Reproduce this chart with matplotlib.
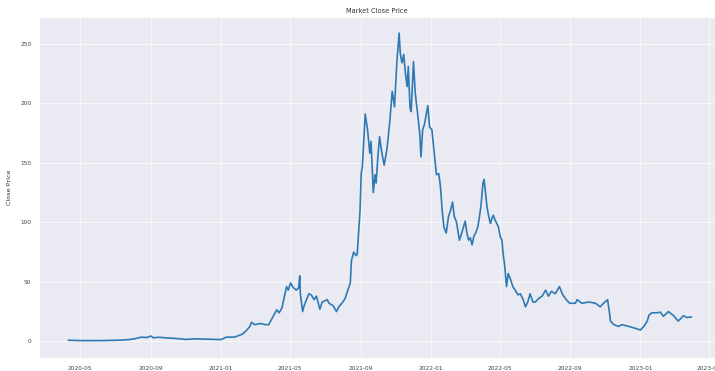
import matplotlib
matplotlib.use("Agg")
import matplotlib.pyplot as plt
import matplotlib.dates as mdates
import seaborn as sns
import pandas as pd

# Close prices
dates = [
    "2020-04-10", "2020-04-25", "2020-05-10", "2020-05-25", "2020-06-10", "2020-06-25",
    "2020-07-10", "2020-07-25", "2020-08-05", "2020-08-15", "2020-08-25", "2020-09-01",
    "2020-09-05", "2020-09-15", "2020-10-01", "2020-10-15", "2020-11-01", "2020-11-15",
    "2020-12-01", "2020-12-20", "2021-01-01", "2021-01-10", "2021-01-25", "2021-02-07",
    "2021-02-14", "2021-02-20", "2021-02-23", "2021-03-01", "2021-03-10", "2021-03-20",
    "2021-03-25", "2021-03-31", "2021-04-08", "2021-04-12", "2021-04-17", "2021-04-20",
    "2021-04-25", "2021-04-28", "2021-05-02", "2021-05-07", "2021-05-12", "2021-05-16",
    "2021-05-18", "2021-05-19", "2021-05-23", "2021-05-25", "2021-05-28", "2021-06-03",
    "2021-06-07", "2021-06-12", "2021-06-16", "2021-06-22", "2021-06-26", "2021-07-05",
    "2021-07-08", "2021-07-15", "2021-07-21", "2021-07-25", "2021-08-01", "2021-08-05",
    "2021-08-09", "2021-08-14", "2021-08-16", "2021-08-20", "2021-08-24", "2021-08-26",
    "2021-08-29", "2021-08-31", "2021-09-02", "2021-09-04", "2021-09-06", "2021-09-09",
    "2021-09-13", "2021-09-17", "2021-09-19", "2021-09-21", "2021-09-23", "2021-09-26",
    "2021-09-28", "2021-10-01", "2021-10-04", "2021-10-08", "2021-10-12", "2021-10-17",
    "2021-10-22", "2021-10-26", "2021-10-30", "2021-11-03", "2021-11-07", "2021-11-09",
    "2021-11-12", "2021-11-15", "2021-11-18", "2021-11-21", "2021-11-23", "2021-11-26",
    "2021-11-28", "2021-12-02", "2021-12-05", "2021-12-09", "2021-12-13", "2021-12-15",
    "2021-12-18", "2021-12-21", "2021-12-24", "2021-12-27", "2021-12-30", "2022-01-03",
    "2022-01-06", "2022-01-09", "2022-01-11", "2022-01-15", "2022-01-18", "2022-01-21",
    "2022-01-24", "2022-01-28", "2022-02-01", "2022-02-04", "2022-02-08", "2022-02-11",
    "2022-02-15", "2022-02-17", "2022-02-20", "2022-02-24", "2022-02-27", "2022-03-02",
    "2022-03-05", "2022-03-08", "2022-03-11", "2022-03-14", "2022-03-17", "2022-03-21",
    "2022-03-24", "2022-03-27", "2022-03-30", "2022-04-02", "2022-04-04", "2022-04-06",
    "2022-04-09", "2022-04-12", "2022-04-15", "2022-04-18", "2022-04-20", "2022-04-23",
    "2022-04-26", "2022-04-29", "2022-05-02", "2022-05-05", "2022-05-07", "2022-05-10",
    "2022-05-13", "2022-05-16", "2022-05-20", "2022-05-24", "2022-05-28", "2022-06-02",
    "2022-06-06", "2022-06-11", "2022-06-15", "2022-06-19", "2022-06-23", "2022-06-28",
    "2022-07-02", "2022-07-08", "2022-07-14", "2022-07-20", "2022-07-25", "2022-07-30",
    "2022-08-06", "2022-08-13", "2022-08-19", "2022-08-25", "2022-08-31", "2022-09-10",
    "2022-09-13", "2022-09-21", "2022-10-03", "2022-10-15", "2022-10-23", "2022-10-29",
    "2022-11-05", "2022-11-08", "2022-11-10", "2022-11-16", "2022-11-24", "2022-11-30",
    "2022-12-12", "2022-12-23", "2023-01-01", "2023-01-07", "2023-01-13", "2023-01-16",
    "2023-01-21", "2023-01-30", "2023-02-05", "2023-02-10", "2023-02-19", "2023-02-28",
    "2023-03-08", "2023-03-17", "2023-03-23", "2023-03-31",
]
close = [
    0.95, 0.7, 0.6, 0.6, 0.65, 0.8,
    1.0, 1.5, 2.3, 3.5, 3.2, 4.5,
    3.0, 3.4, 2.8, 2.4, 1.6, 2.1,
    1.9, 1.6, 1.5, 3.5, 3.6, 6.0,
    9.0, 12.5, 16, 14, 15, 14,
    14, 19.5, 26.5, 24, 28, 35,
    46, 43, 49, 45, 43, 45,
    55, 40, 25, 29, 33, 40,
    39, 35, 38, 27, 33, 35,
    32, 30, 25, 29, 33, 36,
    42, 49, 68, 75, 72, 73,
    96, 110, 141, 147, 165, 191,
    178, 158, 168, 148, 125, 140,
    133, 155, 172, 158, 148, 162,
    186, 210, 197, 234, 259, 242,
    234, 241, 225, 214, 231, 196,
    193, 235, 209, 192, 174, 155,
    178, 182, 190, 198, 180, 178,
    164, 150, 140, 141, 130, 110,
    96, 91, 105, 109, 117, 105,
    100, 94, 85, 91, 96, 101,
    91, 85, 87, 81, 88, 92,
    96, 105, 116, 133, 136, 127,
    113, 105, 99, 104, 106, 102,
    99, 96, 88, 85, 74, 63,
    46, 57, 52, 46, 43, 39,
    40, 35, 29, 33, 40, 33,
    33, 36, 38, 43, 38, 42,
    40, 46, 39, 35, 32, 32,
    35, 32, 33, 32, 29, 32,
    35, 25, 17, 14, 12.5, 14,
    12.5, 11, 9.5, 12.5, 17, 22,
    24, 24, 24.5, 21, 25, 21.5,
    17, 21.5, 20, 20.5,
]

df = pd.DataFrame({"Date": pd.to_datetime(dates), "Close": close})

sns.set_style("darkgrid")
plt.rcParams["font.family"] = ["DejaVu Sans"]

fig = plt.figure(figsize=(7.15, 3.71), dpi=100)
# axes runs to the right edge, like the cropped original
ax = fig.add_axes([39 / 715, 13 / 371, 676 / 715, 341 / 371])
ax.plot(df["Date"], df["Close"], color="#2f7ab4", linewidth=1.2)

ax.set_xlim(pd.Timestamp("2020-02-19"), pd.Timestamp("2023-05-11"))
ax.set_ylim(-14, 272.5)
ax.xaxis.set_major_locator(mdates.MonthLocator(bymonth=[1, 5, 9]))
ax.xaxis.set_major_formatter(mdates.DateFormatter("%Y-%m"))
ax.tick_params(axis="both", labelsize=4.2, colors="#444444", pad=2)
ax.grid(color="#f7f7fa", linewidth=0.8)

ax.set_title("Market Close Price", fontsize=4.8, color="#333333", pad=3)
ax.set_ylabel("Close Price", fontsize=4.6, color="#333333", labelpad=6)

fig.savefig("out.png", dpi=100)
